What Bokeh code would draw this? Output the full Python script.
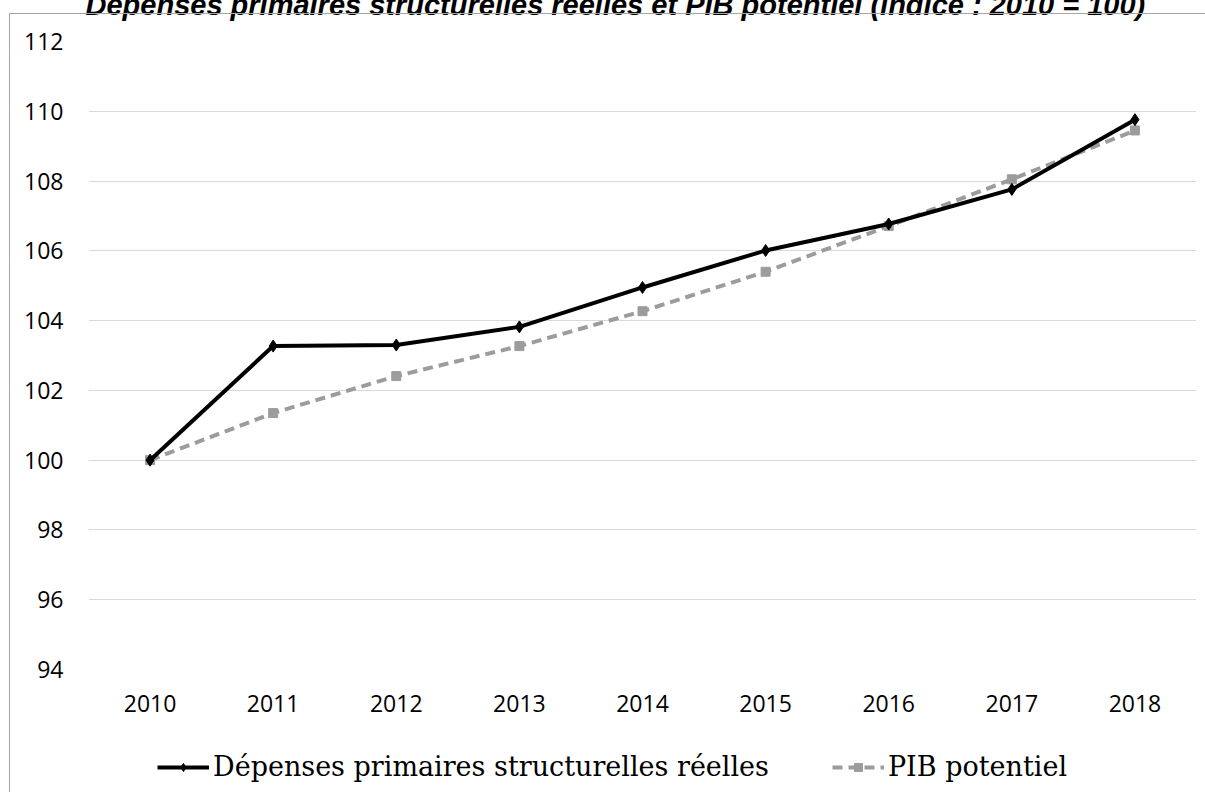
from bokeh.plotting import figure
from bokeh.layouts import column
from bokeh.models import (FactorRange, Range1d, FixedTicker, Legend, LegendItem,
                          InlineStyleSheet)
from bokeh.embed import file_html
from bokeh.resources import INLINE

# Index values, base 2010 = 100
years = ["2010", "2011", "2012", "2013", "2014", "2015", "2016", "2017", "2018"]
depenses = [100.0, 103.27, 103.30, 103.82, 104.95, 106.01, 106.77, 107.76, 109.76]
pib_potentiel = [100.0, 101.35, 102.41, 103.27, 104.27, 105.40, 106.71, 108.05, 109.45]
y_ticks = [94, 96, 98, 100, 102, 104, 106, 108, 110, 112]

title_text = "Dépenses primaires structurelles réelles et PIB potentiel (indice : 2010 = 100)"
label_depenses = "Dépenses primaires structurelles réelles"
label_pib = "PIB potentiel"

BLACK = "#000000"
GREY = "#9c9c9c"
SHIFT = 40  # canvas rows hidden above the page top (the title runs off the top)

# ---- main chart ----
p = figure(
    frame_width=1108, frame_height=628,
    x_range=FactorRange(factors=years, range_padding=0),
    y_range=Range1d(94, 112),
    output_backend="svg", toolbar_location=None,
    min_border_left=88, min_border_right=9, min_border_top=41 + SHIFT,
    min_border_bottom=56,
)
p.outline_line_color = None
p.background_fill_color = "white"
p.border_fill_color = "white"

p.title.text = title_text
p.title.align = "left"
p.title.offset = -3
p.title.text_font = "Liberation Sans"
p.title.text_font_style = "bold italic"
p.title.text_font_size = "29px"
p.title.text_color = BLACK
p.title.standoff = 42

p.xgrid.grid_line_color = None
p.ygrid.grid_line_color = "#d9d9d9"
p.ygrid.grid_line_width = 1
p.yaxis.ticker = FixedTicker(ticks=y_ticks)
for ax in (p.xaxis[0], p.yaxis[0]):
    ax.axis_line_color = None
    ax.major_tick_line_color = None
    ax.minor_tick_line_color = None
    ax.major_tick_out = 0
    ax.major_tick_in = 0
    ax.major_label_text_font = "Open Sans"
    ax.major_label_text_font_size = "23px"
    ax.major_label_text_color = BLACK
p.yaxis.major_label_standoff = 25
p.xaxis.major_label_standoff = 25

line_pib = dict(line_color=GREY, line_width=4, line_dash="10 6")
pts_pib = dict(marker="square", size=9, fill_color=GREY, line_color=GREY)
line_dep = dict(line_color=BLACK, line_width=4)
pts_dep = dict(marker="diamond", size=12, fill_color=BLACK, line_color=BLACK)

p.line(years, pib_potentiel, **line_pib)
p.scatter(years, pib_potentiel, **pts_pib)
p.line(years, depenses, **line_dep)
p.scatter(years, depenses, **pts_dep)

# ---- legend strip under the chart ----
# same series, but the strip's y range (0..1) keeps them out of view: only the
# legend swatches show
leg = figure(
    width=1205, height=100,
    x_range=FactorRange(factors=years, range_padding=0), y_range=Range1d(0, 1),
    x_axis_type=None, y_axis_type=None, output_backend="svg", toolbar_location=None,
    min_border=0, min_border_left=0, min_border_right=0, min_border_top=0,
    min_border_bottom=0,
)
leg.outline_line_color = None
leg.grid.grid_line_color = None
leg.background_fill_color = "white"
leg.border_fill_color = "white"

k_dep_line = leg.line(years, depenses, **line_dep)
k_dep_pts = leg.scatter(years, depenses, **pts_dep)
k_pib_line = leg.line(years, pib_potentiel, **line_pib)
k_pib_pts = leg.scatter(years, pib_potentiel, **pts_pib)

legend = Legend(
    items=[LegendItem(label=label_depenses, renderers=[k_dep_line, k_dep_pts]),
           LegendItem(label=label_pib, renderers=[k_pib_line, k_pib_pts])],
    orientation="horizontal", location=(69, 43),
    border_line_color=None, background_fill_alpha=0,
    label_text_font="DejaVu Serif", label_text_font_size="27px", label_text_color=BLACK,
    glyph_width=52, glyph_height=20, label_standoff=4, spacing=63,
    padding=3, margin=0,
)
leg.add_layout(legend)

layout = column(p, leg, spacing=0)
layout.styles = {"margin-top": f"-{SHIFT}px"}
# thin chart-area border on the left and top edges
layout.stylesheets = [InlineStyleSheet(css=(
    ":host { position: relative; }"
    ":host::after { content: ''; position: absolute; left: 9px; top: %dpx; right: 0; bottom: 0;"
    " border-left: 1px solid #a6a6a6; border-top: 1px solid #a6a6a6; pointer-events: none;"
    " z-index: 10; }"
) % (13 + SHIFT))]

open("out.html", "w").write(file_html(layout, INLINE))
